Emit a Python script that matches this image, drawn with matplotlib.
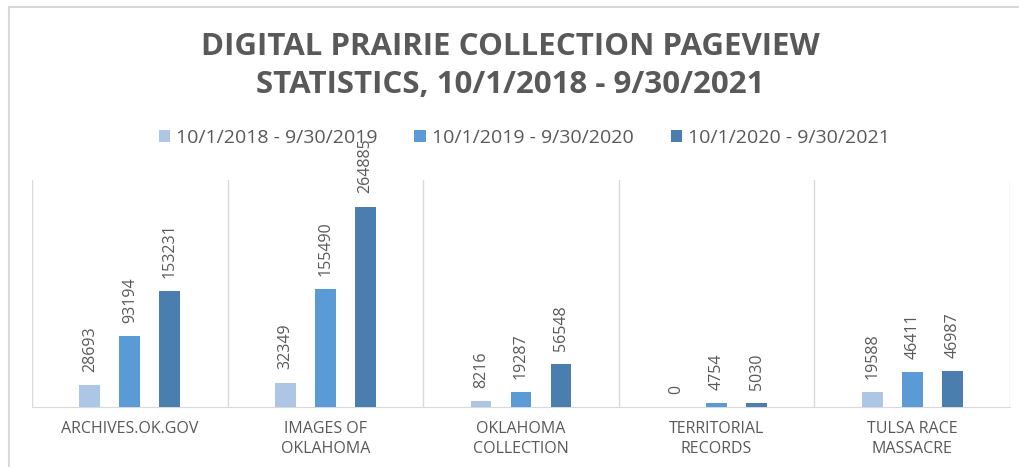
import numpy as np
from matplotlib import pyplot as plt
from matplotlib.patches import Rectangle

categories = ["ARCHIVES.OK.GOV", "IMAGES OF\nOKLAHOMA", "OKLAHOMA\nCOLLECTION",
              "TERRITORIAL\nRECORDS", "TULSA RACE\nMASSACRE"]
series_names = ["10/1/2018 - 9/30/2019", "10/1/2019 - 9/30/2020", "10/1/2020 - 9/30/2021"]
fy2019 = [28693, 32349, 8216, 0, 19588]
fy2020 = [93194, 155490, 19287, 4754, 46411]
fy2021 = [153231, 264885, 56548, 5030, 46987]
title = "DIGITAL PRAIRIE COLLECTION PAGEVIEW\nSTATISTICS, 10/1/2018 - 9/30/2021"

colors = ["#ADC6E6", "#5B9BD5", "#4A7EAE"]
text_gray = "#595959"
grid_gray = "#D9D9D9"

plt.rcParams['font.family'] = ['Open Sans', 'DejaVu Sans']

fig = plt.figure(figsize=(10.2, 4.67), dpi=100)
ax = fig.add_axes([32 / 1020, 1 - 407 / 467, 978 / 1020, 227 / 467])

# outer chart frame (only left/top visible in the crop)
fig.patches.append(Rectangle((9 / 1020, -0.1), 1.2, 1 - 7 / 467 + 0.1,
                             transform=fig.transFigure, fill=False,
                             edgecolor="#D9D9D9", linewidth=1.5))

x = np.arange(len(categories))
offset = 0.2045
width = 0.107
for i, (vals, name) in enumerate(zip([fy2019, fy2020, fy2021], series_names)):
    pos = x + (i - 1) * offset
    ax.bar(pos, vals, width=width, color=colors[i], label=name, zorder=3)
    for p, v in zip(pos, vals):
        ax.annotate(str(v), (p, v), xytext=(0, 9.5), textcoords="offset points",
                    rotation=90, ha="center", va="bottom", fontsize=11.5,
                    color=text_gray, annotation_clip=False)

ax.set_xlim(-0.5, len(categories) - 0.5)
ax.set_ylim(0, 300000)
ax.set_yticks([])
ax.set_xticks([])
for b in np.arange(len(categories) + 1) - 0.5:
    ax.axvline(b, color=grid_gray, linewidth=1, zorder=1)
for s in ["top", "left", "right"]:
    ax.spines[s].set_visible(False)
ax.spines["bottom"].set_color(grid_gray)

for xi, cat in zip(x, categories):
    ax.text(xi, -0.062, cat, transform=ax.get_xaxis_transform(), ha="center",
            va="top", fontsize=11.5, color=text_gray, linespacing=1.3)

fig.text(0.5, 1 - 66 / 467, title, ha="center", va="center", fontsize=22.5,
         fontweight="bold", color=text_gray, linespacing=1.35)

fig.legend(loc="center", bbox_to_anchor=(0.514, 1 - 138 / 467), ncol=3,
           frameon=False, fontsize=14, labelcolor=text_gray, handlelength=0.6,
           handleheight=0.6, handletextpad=0.3, columnspacing=1.9)

fig.savefig("out.png", dpi=100)
